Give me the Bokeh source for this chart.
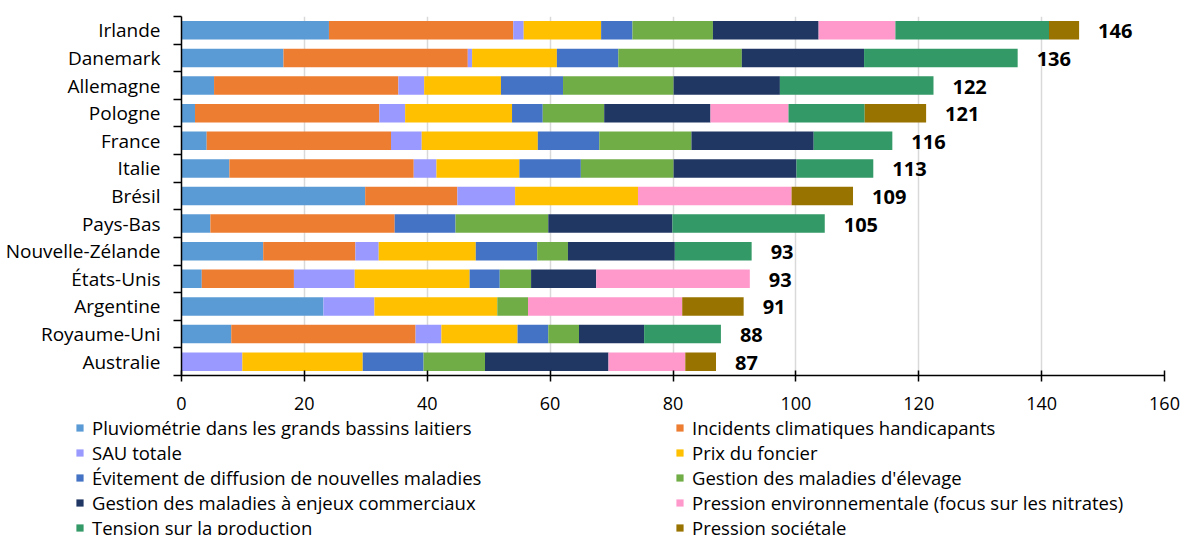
from bokeh.plotting import figure
from bokeh.layouts import column
from bokeh.models import ColumnDataSource, Range1d, FixedTicker, Legend, LegendItem
from bokeh.core.properties import value
from bokeh.embed import file_html
from bokeh.resources import INLINE

countries = ["Irlande", "Danemark", "Allemagne", "Pologne", "France", "Italie", "Brésil",
             "Pays-Bas", "Nouvelle-Zélande", "États-Unis", "Argentine", "Royaume-Uni", "Australie"]

series_names = [
    "Pluviométrie dans les grands bassins laitiers",
    "Incidents climatiques handicapants",
    "SAU totale",
    "Prix du foncier",
    "Évitement de diffusion de nouvelles maladies",
    "Gestion des maladies d'élevage",
    "Gestion des maladies à enjeux commerciaux",
    "Pression environnementale (focus sur les nitrates)",
    "Tension sur la production",
    "Pression sociétale",
]

pluviometrie    = [24.0, 16.6, 5.3, 2.2, 4.1, 7.8, 29.9, 4.7, 13.3, 3.3, 23.1, 8.1, 0.0]
incidents       = [30.0, 30.0, 30.0, 30.0, 30.0, 30.0, 15.0, 30.0, 15.0, 15.0, 0.0, 30.0, 0.0]
sau_totale      = [1.7, 0.7, 4.2, 4.2, 5.0, 3.7, 9.4, 0.0, 3.8, 9.9, 8.3, 4.2, 9.9]
prix_foncier    = [12.6, 13.8, 12.5, 17.4, 18.9, 13.5, 20.0, 0.0, 15.8, 18.7, 20.0, 12.4, 19.6]
evitement       = [5.1, 10.0, 10.1, 5.0, 10.0, 10.0, 0.0, 9.9, 10.0, 4.9, 0.0, 5.0, 9.9]
gestion_elevage = [13.1, 20.1, 18.0, 10.0, 15.0, 15.1, 0.0, 15.1, 5.0, 5.1, 5.0, 5.0, 10.0]
gestion_comm    = [17.2, 19.9, 17.3, 17.3, 19.9, 20.0, 0.0, 20.2, 17.4, 10.6, 0.0, 10.6, 20.1]
pression_env    = [12.5, 0.0, 0.0, 12.7, 0.0, 0.0, 25.0, 0.0, 0.0, 25.0, 25.1, 0.0, 12.5]
tension         = [25.0, 25.0, 25.0, 12.4, 12.8, 12.5, 0.0, 24.8, 12.5, 0.0, 0.0, 12.5, 0.0]
pression_soc    = [4.9, 0.0, 0.0, 10.0, 0.0, 0.0, 10.0, 0.0, 0.0, 0.0, 10.0, 0.0, 5.0]

totals = [146, 136, 122, 121, 116, 113, 109, 105, 93, 93, 91, 88, 87]
x_ticks = [0, 20, 40, 60, 80, 100, 120, 140, 160]

colors = ["#5B9BD5", "#ED7D31", "#9999FF", "#FFC000", "#4472C4",
          "#70AD47", "#203764", "#FF99CC", "#339966", "#997300"]

series = [pluviometrie, incidents, sau_totale, prix_foncier, evitement,
          gestion_elevage, gestion_comm, pression_env, tension, pression_soc]

n = len(countries)
ypos = [n - 1 - i for i in range(n)]
keys = ["s%d" % k for k in range(len(series))]

data = {"y": ypos}
for k, s in zip(keys, series):
    data[k] = s
data["end"] = [sum(vals) for vals in zip(*series)]
data["lbl"] = [str(t) for t in totals]
source = ColumnDataSource(data)

FONT = "Open Sans"

# ---------------- main chart ----------------
p = figure(width=1184, height=415, output_backend="svg", toolbar_location=None,
           x_range=Range1d(0, 160), y_range=Range1d(-0.5, n - 0.5),
           min_border_left=181, min_border_right=20, min_border_top=16, min_border_bottom=40)
p.outline_line_color = None
p.background_fill_color = "white"
p.border_fill_color = "white"

renderers = p.hbar_stack(keys, y="y", height=0.67, color=colors, line_color=None, source=source)

p.text(x="end", y="y", text="lbl", source=source, x_offset=19, y_offset=1,
       text_font=value(FONT), text_font_size="20px", text_font_style="bold",
       text_baseline="middle", text_align="left", text_color="black")

# x axis
p.xaxis.ticker = FixedTicker(ticks=x_ticks)
p.xaxis.axis_line_color = "black"
p.xaxis.axis_line_width = 1.5
p.xaxis.major_tick_line_color = "black"
p.xaxis.major_tick_line_width = 1.5
p.xaxis.major_tick_in = 5
p.xaxis.major_tick_out = 6
p.xaxis.minor_tick_line_color = None
p.xaxis.major_label_text_font = FONT
p.xaxis.major_label_text_font_size = "18px"
p.xaxis.major_label_text_color = "black"
p.xaxis.major_label_standoff = 15

# y axis
p.yaxis.ticker = FixedTicker(ticks=ypos, minor_ticks=[k - 0.5 for k in range(n + 1)])
p.yaxis.major_label_overrides = {y: c for y, c in zip(ypos, countries)}
p.yaxis.axis_line_color = "black"
p.yaxis.axis_line_width = 1.5
p.yaxis.major_tick_line_color = None
p.yaxis.major_tick_in = 0
p.yaxis.major_tick_out = 0
p.yaxis.minor_tick_line_color = "black"
p.yaxis.minor_tick_line_width = 1.5
p.yaxis.minor_tick_in = 0
p.yaxis.minor_tick_out = 8
p.yaxis.major_label_text_font = FONT
p.yaxis.major_label_text_font_size = "19px"
p.yaxis.major_label_text_color = "black"
p.yaxis.major_label_standoff = 13

p.xgrid.ticker = FixedTicker(ticks=x_ticks)
p.xgrid.grid_line_color = "#D9D9D9"
p.xgrid.grid_line_width = 1.5
p.ygrid.grid_line_color = None

# ---------------- legend panel ----------------
p2 = figure(width=1184, height=120, output_backend="svg", toolbar_location=None,
            x_range=Range1d(0, 160), y_range=Range1d(100, 101),
            x_axis_type=None, y_axis_type=None,
            min_border=0, min_border_left=0, min_border_right=0,
            min_border_top=0, min_border_bottom=0)
p2.outline_line_color = None
p2.grid.visible = False
for fig in (p, p2):
    try:
        fig.frame_align = False
    except Exception:
        pass
leg_renderers = p2.hbar_stack(keys, y="y", height=0.67, color=colors, line_color=None, source=source)

items = [LegendItem(label=name, renderers=[r], index=0) for name, r in zip(series_names, leg_renderers)]
legend = Legend(items=items, orientation="horizontal", ncols=2,
                location=(75, -5),
                glyph_width=9, glyph_height=9, label_standoff=8,
                label_width=583, label_height=25, spacing=0, padding=0, margin=0,
                label_text_font=FONT, label_text_font_size="18.5px", label_text_color="black",
                border_line_color=None, background_fill_alpha=0)
p2.add_layout(legend)

layout = column(p, p2, spacing=0)
open("out.html", "w").write(file_html(layout, INLINE))
